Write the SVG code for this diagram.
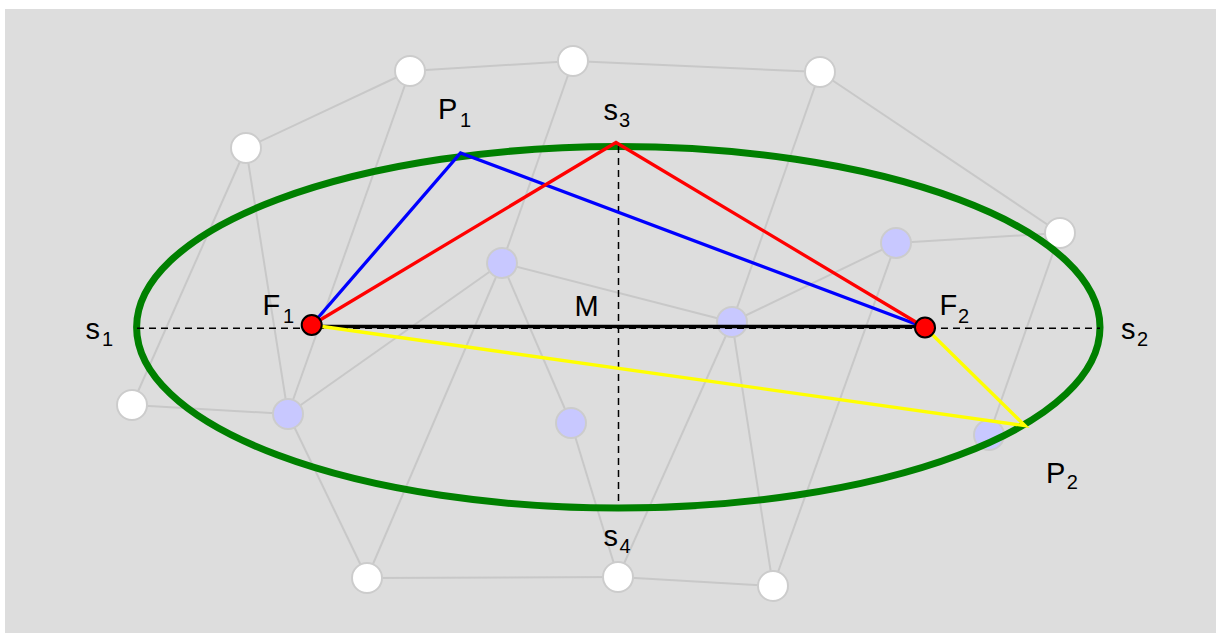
<svg xmlns="http://www.w3.org/2000/svg" width="1216" height="633" viewBox="0 0 1216 633">
<style>
.edge{stroke:#c8c8c8;stroke-width:2;fill:none}
.nw{fill:#ffffff;stroke:#cccccc;stroke-width:2}
.nl{fill:#c8c8ff;stroke:#cccccc;stroke-width:2}
.lbl{font-family:"Liberation Sans",Arial,sans-serif;font-size:29px;fill:#000}
.sub{font-size:20px}
.dash{stroke:#000;stroke-width:1.5;stroke-dasharray:7 5;fill:none}
.focus{fill:#ff0000;stroke:#000;stroke-width:2}
.seg{fill:none;stroke-width:3.3}
</style>
<rect x="5" y="9" width="1211" height="624" fill="#dddddd"/>
<g id="connectors">
<line class="edge" x1="246" y1="148" x2="410" y2="71"/>
<line class="edge" x1="410" y1="71" x2="573" y2="61"/>
<line class="edge" x1="573" y1="61" x2="820" y2="72"/>
<line class="edge" x1="820" y1="72" x2="1060" y2="233"/>
<line class="edge" x1="246" y1="148" x2="132" y2="405"/>
<line class="edge" x1="246" y1="148" x2="288" y2="414"/>
<line class="edge" x1="410" y1="71" x2="288" y2="414"/>
<line class="edge" x1="573" y1="61" x2="502" y2="263"/>
<line class="edge" x1="132" y1="405" x2="288" y2="414"/>
<line class="edge" x1="288" y1="414" x2="502" y2="263"/>
<line class="edge" x1="288" y1="414" x2="367" y2="578"/>
<line class="edge" x1="367" y1="578" x2="502" y2="263"/>
<line class="edge" x1="502" y1="263" x2="571" y2="423"/>
<line class="edge" x1="502" y1="263" x2="732" y2="322"/>
<line class="edge" x1="571" y1="423" x2="618" y2="577"/>
<line class="edge" x1="367" y1="578" x2="618" y2="577"/>
<line class="edge" x1="618" y1="577" x2="773" y2="586"/>
<line class="edge" x1="820" y1="72" x2="732" y2="322"/>
<line class="edge" x1="732" y1="322" x2="896" y2="243"/>
<line class="edge" x1="732" y1="322" x2="618" y2="577"/>
<line class="edge" x1="732" y1="322" x2="773" y2="586"/>
<line class="edge" x1="896" y1="243" x2="1060" y2="233"/>
<line class="edge" x1="896" y1="243" x2="773" y2="586"/>
<line class="edge" x1="1060" y1="233" x2="989" y2="435"/>
</g>
<g id="n1"><circle class="nw" cx="410" cy="71" r="15"/></g>
<g id="n2"><circle class="nw" cx="573" cy="61" r="15"/></g>
<g id="n3"><circle class="nw" cx="820" cy="72" r="15"/></g>
<g id="n4"><circle class="nw" cx="246" cy="148" r="15"/></g>
<g id="n5"><circle class="nw" cx="1060" cy="233" r="15"/></g>
<g id="n6"><circle class="nw" cx="132" cy="405" r="15"/></g>
<g id="n7"><circle class="nw" cx="367" cy="578" r="15"/></g>
<g id="n8"><circle class="nw" cx="618" cy="577" r="15"/></g>
<g id="n9"><circle class="nw" cx="773" cy="586" r="15"/></g>
<g id="n10"><circle class="nl" cx="502" cy="263" r="15"/></g>
<g id="n11"><circle class="nl" cx="896" cy="243" r="15"/></g>
<g id="n12"><circle class="nl" cx="732" cy="322" r="15"/></g>
<g id="n13"><circle class="nl" cx="288" cy="414" r="15"/></g>
<g id="n14"><circle class="nl" cx="571" cy="423" r="15"/></g>
<g id="n15"><circle class="nl" cx="989" cy="435" r="15"/></g>
<g id="ellipse"><ellipse cx="618.3" cy="327.3" rx="481.7" ry="180.7" fill="none" stroke="#008000" stroke-width="7"/></g>
<g id="axes">
<line class="dash" x1="137" y1="328.3" x2="1100" y2="328.3"/>
<line class="dash" x1="618.5" y1="146" x2="618.5" y2="505"/>
</g>
<g id="construction">
<line x1="311.7" y1="326.5" x2="925" y2="326.5" stroke="#000" stroke-width="3.5"/>
<polyline class="seg" points="311.7,325 460.5,153 925,327.5" stroke="#0000ff"/>
<polyline class="seg" points="311.7,325 616,142.5 925,327.5" stroke="#ff0000"/>
<polyline class="seg" points="311.7,325 1025,425.7 925,327.5" stroke="#ffff00"/>
</g>
<g id="F1"><circle class="focus" cx="311.7" cy="325" r="10"/></g>
<g id="F2"><circle class="focus" cx="925" cy="327.5" r="10"/></g>
<g id="labels">
<text class="lbl"><tspan x="438" y="119">P</tspan><tspan class="sub" x="460" y="126.7">1</tspan></text>
<text class="lbl"><tspan x="603.5" y="120">s</tspan><tspan class="sub" x="619" y="127">3</tspan></text>
<text class="lbl"><tspan x="262.5" y="315">F</tspan><tspan class="sub" x="283" y="323">1</tspan></text>
<text class="lbl" x="574.5" y="315.7">M</text>
<text class="lbl"><tspan x="85.5" y="339">s</tspan><tspan class="sub" x="102" y="346">1</tspan></text>
<text class="lbl"><tspan x="939.5" y="315">F</tspan><tspan class="sub" x="958" y="323">2</tspan></text>
<text class="lbl"><tspan x="1121" y="339">s</tspan><tspan class="sub" x="1137" y="346">2</tspan></text>
<text class="lbl"><tspan x="603.5" y="545.7">s</tspan><tspan class="sub" x="619.6" y="553">4</tspan></text>
<text class="lbl"><tspan x="1046" y="482.7">P</tspan><tspan class="sub" x="1066.7" y="489">2</tspan></text>
</g>
</svg>
